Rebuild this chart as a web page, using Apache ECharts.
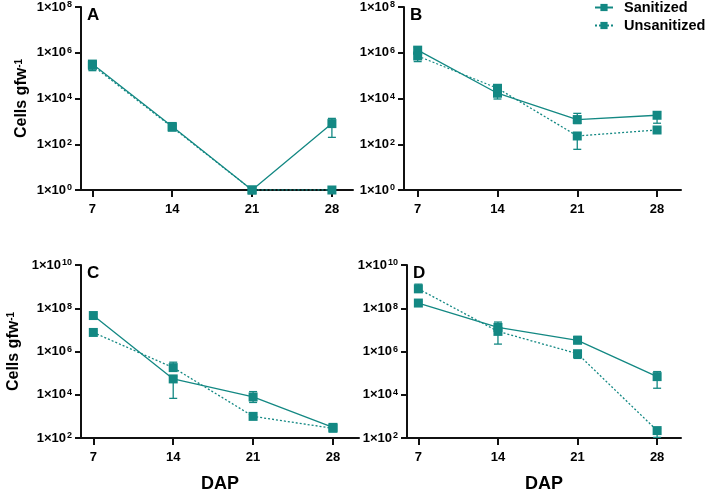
<!DOCTYPE html>
<html>
<head>
<meta charset="utf-8">
<script src="https://cdn.jsdelivr.net/npm/echarts@6/dist/echarts.min.js"></script>
<style>html,body{margin:0;padding:0;background:#fff}#c{width:708px;height:494px}</style>
</head>
<body>
<div id="c"></div>
<script>
// ---- data ----
const days = [7, 14, 21, 28];
const seriesNames = ['Sanitized', 'Unsanitized'];
const panelLetters = ['A', 'B', 'C', 'D'];
const xTicks = [7, 14, 21, 28];
const yTicksTop = [1, 1e2, 1e4, 1e6, 1e8];
const yTicksBottom = [1e2, 1e4, 1e6, 1e8, 1e10];

// Panel A
const aSan = [3.2e5, 6.0e2, 1, 8.0e2];
const aSanLow = [1.65e5, 5.0e2, 1, 2.0e2];
const aSanHigh = [4.5e5, 7.0e2, 1, 1.35e3];
const aUns = [2.8e5, 5.5e2, 1, 1];
const aUnsLow = [2.2e5, 4.8e2, 1, 1];
const aUnsHigh = [3.6e5, 6.3e2, 1, 1];
// Panel B
const bSan = [1.3e6, 1.7e4, 1.2e3, 1.85e3];
const bSanLow = [9.0e5, 9.5e3, 8.0e2, 8.3e2];
const bSanHigh = [1.74e6, 2.2e4, 2.24e3, 2.6e3];
const bUns = [7.2e5, 2.8e4, 2.3e2, 4.2e2];
const bUnsLow = [4.1e5, 2.0e4, 60, 3.3e2];
const bUnsHigh = [9.0e5, 3.9e4, 3.0e2, 5.3e2];
// Panel C
const cSan = [4.6e7, 5.4e4, 7.9e3, 3.1e2];
const cSanLow = [3.8e7, 6.8e3, 4.4e3, 2.6e2];
const cSanHigh = [5.4e7, 7.0e4, 1.4e4, 3.6e2];
const cUns = [7.6e6, 1.8e5, 1.0e3, 2.8e2];
const cUnsLow = [6.4e6, 1.3e5, 8.5e2, 2.4e2];
const cUnsHigh = [9.0e6, 3.2e5, 1.2e3, 3.3e2];
// Panel D
const dSan = [1.74e8, 1.3e7, 3.3e6, 6.9e4];
const dSanLow = [1.45e8, 8.0e6, 2.4e6, 2.0e4];
const dSanHigh = [2.1e8, 1.8e7, 5.0e6, 1.18e5];
const dUns = [7.9e8, 8.5e6, 7.9e5, 2.2e2];
const dUnsLow = [5.5e8, 2.2e6, 4.8e5, 1.07e2];
const dUnsHigh = [1.3e9, 2.3e7, 1.0e6, 2.7e2];

const panels = [
  {san: aSan, sanLow: aSanLow, sanHigh: aSanHigh, uns: aUns, unsLow: aUnsLow, unsHigh: aUnsHigh, yTicks: yTicksTop},
  {san: bSan, sanLow: bSanLow, sanHigh: bSanHigh, uns: bUns, unsLow: bUnsLow, unsHigh: bUnsHigh, yTicks: yTicksTop},
  {san: cSan, sanLow: cSanLow, sanHigh: cSanHigh, uns: cUns, unsLow: cUnsLow, unsHigh: cUnsHigh, yTicks: yTicksBottom},
  {san: dSan, sanLow: dSanLow, sanHigh: dSanHigh, uns: dUns, unsLow: dUnsLow, unsHigh: dUnsHigh, yTicks: yTicksBottom}
];

// ---- layout / style ----
const COLOR = '#138883';
const FONT = 'Liberation Sans, Arial, sans-serif';
const grids = [
  {left: 81, top: 7, width: 272, height: 183},
  {left: 404, top: 7, width: 277, height: 183},
  {left: 81, top: 265, width: 278, height: 182},
  {left: 407, top: 265, width: 274, height: 182}
];
const xRanges = [[6.0, 29.85], [5.8, 30.1], [5.92, 30.28], [6.0, 30.1]];
const yNameStyle = [
  {size: 16, sup: 10, gap: 51},
  null,
  {size: 16, sup: 10, gap: 59},
  null
];

const chart = echarts.init(document.getElementById('c'), null, {renderer: 'canvas'});

const supRich = {
  s: {fontSize: 9, fontWeight: 'bold', fontFamily: FONT, color: '#000', verticalAlign: 'top', lineHeight: 9, padding: [0, 0, 0, 1]}
};

const xAxes = [], yAxes = [], series = [], titles = [];
panels.forEach((p, i) => {
  const isBottom = i >= 2;
  xAxes.push({
    type: 'value', gridIndex: i, min: xRanges[i][0], max: xRanges[i][1],
    axisLine: {show: true, lineStyle: {color: '#111', width: 2}},
    axisTick: {show: true, length: 7, lineStyle: {color: '#111', width: 2}, customValues: xTicks},
    axisLabel: {customValues: xTicks, fontSize: 13, fontWeight: 'bold', fontFamily: FONT, color: '#000', margin: 13},
    splitLine: {show: false},
    name: isBottom ? 'DAP' : '', nameLocation: 'middle', nameGap: 37,
    nameTextStyle: {fontSize: 18, fontWeight: 'bold', fontFamily: FONT, color: '#000'}
  });
  const ymin = p.yTicks[0], ymax = p.yTicks[p.yTicks.length - 1];
  const ns = yNameStyle[i];
  yAxes.push({
    type: 'log', logBase: 10, gridIndex: i, min: ymin, max: ymax,
    axisLine: {show: true, lineStyle: {color: '#111', width: 2}},
    axisTick: {show: true, length: 6, lineStyle: {color: '#111', width: 2}, customValues: p.yTicks},
    axisLabel: {
      customValues: p.yTicks, fontSize: 13, fontWeight: 'bold', fontFamily: FONT, color: '#000', margin: 9,
      formatter: v => '1×10{s|' + Math.round(Math.log10(v)) + '}', rich: supRich
    },
    splitLine: {show: false},
    name: ns ? 'Cells gfw{s|-1}' : '', nameLocation: 'middle', nameGap: ns ? ns.gap : 0,
    nameTextStyle: ns ? {fontSize: ns.size, fontWeight: 'bold', fontFamily: FONT, color: '#000',
      rich: {s: {fontSize: ns.sup, fontWeight: 'bold', fontFamily: FONT, color: '#000', verticalAlign: 'top', lineHeight: ns.sup}}} : {}
  });
  titles.push({
    text: panelLetters[i], left: grids[i].left + 6, top: grids[i].top, padding: 0,
    textStyle: {fontSize: 17, fontWeight: 'bold', fontFamily: FONT, color: '#000'}
  });
  const defs = [
    {name: seriesNames[0], vals: p.san, low: p.sanLow, high: p.sanHigh, type: 'solid'},
    {name: seriesNames[1], vals: p.uns, low: p.unsLow, high: p.unsHigh, type: [2, 2]}
  ];
  defs.forEach(d => {
    series.push({
      type: 'custom', name: d.name + ' error', xAxisIndex: i, yAxisIndex: i, silent: true, z: 1,
      encode: {x: 0, y: [1, 2]},
      data: days.map((x, k) => [x, d.low[k], d.high[k]]),
      renderItem: (params, api) => {
        const x = api.value(0);
        const lo = api.coord([x, api.value(1)]);
        const hi = api.coord([x, api.value(2)]);
        const cap = 4;
        const st = {stroke: COLOR, lineWidth: 1.3, fill: null};
        return {type: 'group', children: [
          {type: 'line', shape: {x1: lo[0], y1: lo[1], x2: hi[0], y2: hi[1]}, style: st},
          {type: 'line', shape: {x1: lo[0] - cap, y1: lo[1], x2: lo[0] + cap, y2: lo[1]}, style: st},
          {type: 'line', shape: {x1: hi[0] - cap, y1: hi[1], x2: hi[0] + cap, y2: hi[1]}, style: st}
        ]};
      }
    });
    series.push({
      type: 'line', name: d.name, xAxisIndex: i, yAxisIndex: i, z: 3,
      data: days.map((x, k) => [x, d.vals[k]]),
      symbol: 'rect', symbolSize: 9, showSymbol: true,
      itemStyle: {color: COLOR, opacity: 1},
      lineStyle: {color: COLOR, width: 1.3, type: d.type},
      emphasis: {disabled: true}, animation: false
    });
  });
});

chart.setOption({
  backgroundColor: '#fff',
  animation: false,
  title: titles,
  grid: grids,
  xAxis: xAxes,
  yAxis: yAxes,
  legend: {
    data: seriesNames, orient: 'vertical', left: 594, top: 0, padding: 0, itemGap: 3,
    itemWidth: 18, itemHeight: 9,
    textStyle: {fontSize: 14.5, fontWeight: 'bold', fontFamily: FONT, color: '#000', padding: [0, 0, 0, 6]}
  },
  series: series
});
</script>
</body>
</html>
